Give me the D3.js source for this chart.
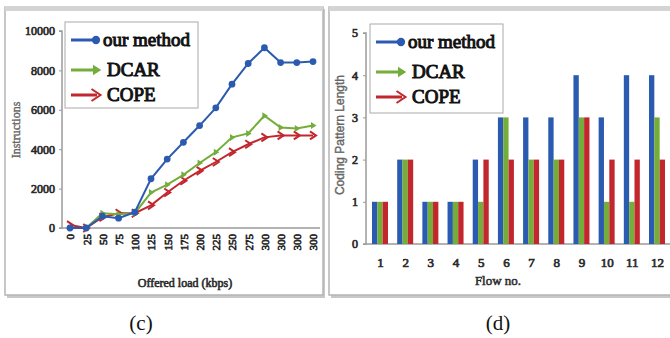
<!DOCTYPE html>
<html>
<head>
<meta charset="utf-8">
<script src="https://cdn.jsdelivr.net/npm/d3@7"></script>
<style>
  body { margin: 0; background: #fff; }
  svg { display: block; }
  svg text { font-family: "Liberation Serif", "Times New Roman", serif; }
</style>
</head>
<body>
<svg id="fig" width="670" height="338"></svg>
<script>
// left chart (c)
var loadLabels = ['0','25','50','75','100','125','150','175','200','225','250','275','300','300','300','300'];
var ourMethod = [0, 0, 600, 500, 800, 2500, 3500, 4350, 5200, 6100, 7300, 8350, 9150, 8400, 8400, 8450];
var dcar      = [0, 0, 750, 700, 750, 1800, 2200, 2700, 3300, 3850, 4600, 4800, 5700, 5100, 5050, 5200];
var cope      = [150, 0, 550, 750, 750, 1150, 1800, 2400, 2900, 3350, 3850, 4250, 4600, 4700, 4700, 4700];
var yTicksC = [0, 2000, 4000, 6000, 8000, 10000];

// right chart (d)
var flows = ['1','2','3','4','5','6','7','8','9','10','11','12'];
var ourLen  = [1, 2, 1, 1, 2, 3, 3, 3, 4, 3, 4, 4];
var dcarLen = [1, 2, 1, 1, 1, 3, 2, 2, 3, 1, 1, 3];
var copeLen = [1, 2, 1, 1, 2, 2, 2, 2, 3, 2, 2, 2];
var yTicksD = [0, 1, 2, 3, 4, 5];

var seriesNames = ['our method', 'DCAR', 'COPE'];
var colors = { 'our method': '#2b5bb0', 'DCAR': '#74ad3a', 'COPE': '#c1272d' };

var svg = d3.select('#fig');

// fake bold: regular serif with a thin stroke of the same colour
function heavy(sel, col, w) {
  sel.attr('fill', col).attr('stroke', col).attr('stroke-width', w).style('font-weight', 'normal');
}

// panel frames
function panel(x, w) {
  svg.append('rect').attr('x', x + 2).attr('y', 9).attr('width', w).attr('height', 289)
    .attr('fill', '#c8c8c8');
  svg.append('rect').attr('x', x).attr('y', 7).attr('width', w).attr('height', 288)
    .attr('fill', '#fff').attr('stroke', '#b5b5b5').attr('stroke-width', 1.5);
  svg.append('rect').attr('x', x).attr('y', 6).attr('width', w).attr('height', 5)
    .attr('fill', '#d4d4d4');
}
panel(5, 318);
panel(329, 345);

function styleAxis(g) {
  g.attr('font-family', null);
  g.selectAll('.domain').attr('stroke', '#9a9a9a').attr('stroke-width', 1.5);
  g.selectAll('.tick line').attr('stroke', '#9a9a9a');
  heavy(g.selectAll('.tick text'), '#2a2a2a', 0.7);
}

// ---- chart (c) ----
var x = d3.scalePoint().domain(d3.range(loadLabels.length)).range([70, 313]);
var y = d3.scaleLinear().domain([0, 10000]).range([228, 31]);

var gy = svg.append('g').attr('transform', 'translate(62,0)')
  .call(d3.axisLeft(y).tickValues(yTicksC).tickSize(3).tickPadding(4).tickFormat(d3.format('d')));
gy.select('.domain').attr('d', 'M-3,31H0V228H-3');
styleAxis(gy);
gy.selectAll('.tick text').style('font-size', '12px');

var gx = svg.append('g').attr('transform', 'translate(0,228)')
  .call(d3.axisBottom(x).tickSize(0).tickFormat(function(i) { return loadLabels[i]; }));
gx.select('.domain').attr('d', 'M62,0H320');
styleAxis(gx);
gx.selectAll('.tick text').style('font-size', '11px')
  .attr('transform', 'rotate(-90)').attr('text-anchor', 'end')
  .attr('x', -6).attr('y', 0).attr('dy', '0.35em');

heavy(svg.append('text').attr('x', 185).attr('y', 287).attr('text-anchor', 'middle')
  .style('font-size', '12px').text('Offered load (kbps)'), '#2a2a2a', 0.6);
heavy(svg.append('text').attr('transform', 'translate(20,130) rotate(-90)').attr('text-anchor', 'middle')
  .style('font-size', '12px').text('Instructions'), '#666', 0.4);

var line = d3.line().x(function(d, i) { return x(i); }).y(function(d) { return y(d); });
var lineData = [
  { name: 'COPE', values: cope },
  { name: 'DCAR', values: dcar },
  { name: 'our method', values: ourMethod }
];

function drawMarker(g, name, cx, cy, s) {
  var c = colors[name];
  if (name === 'our method') {
    g.append('path').attr('d', d3.symbol(d3.symbolCircle, 36 * s)()).attr('transform', 'translate(' + cx + ',' + cy + ')')
      .attr('fill', c);
  } else if (name === 'DCAR') {
    g.append('path').attr('d', 'M-2,-3.5L3.5,0L-2,3.5Z').attr('transform', 'translate(' + cx + ',' + cy + ') scale(' + s + ')')
      .attr('fill', c);
  } else {
    g.append('path').attr('d', 'M-3,-4L3,0L-3,4').attr('transform', 'translate(' + cx + ',' + cy + ') scale(' + s + ')')
      .attr('fill', 'none').attr('stroke', c).attr('stroke-width', 2 / s);
  }
}

lineData.forEach(function(s) {
  svg.append('path').datum(s.values).attr('d', line).attr('fill', 'none')
    .attr('stroke', colors[s.name]).attr('stroke-width', 2);
  var gm = svg.append('g');
  s.values.forEach(function(v, i) { drawMarker(gm, s.name, x(i), y(v), 1); });
});

function legend(lx, ly, w, h) {
  var g = svg.append('g');
  g.append('rect').attr('x', lx).attr('y', ly).attr('width', w).attr('height', h)
    .attr('fill', '#fff').attr('stroke', '#aaa');
  var rowY = [ly + 18, ly + 48, ly + 73];
  seriesNames.forEach(function(n, i) {
    var yy = rowY[i];
    g.append('line').attr('x1', lx + 6).attr('x2', lx + 32).attr('y1', yy).attr('y2', yy)
      .attr('stroke', colors[n]).attr('stroke-width', 3);
    drawMarker(g, n, lx + 31, yy, 1.5);
    heavy(g.append('text').attr('x', n === 'our method' ? lx + 38 : lx + 42).attr('y', yy + 6)
      .style('font-size', '19px').text(n), '#111', 1);
  });
}
legend(65, 22, 133, 86);

// ---- chart (d) ----
var xd = d3.scalePoint().domain(flows).range([380, 657]);
var xs = d3.scaleBand().domain(seriesNames).range([-8, 8]).padding(0);
var yd = d3.scaleLinear().domain([0, 5]).range([244, 33]);

var gyd = svg.append('g').attr('transform', 'translate(366,0)')
  .call(d3.axisLeft(yd).tickValues(yTicksD).tickSize(3).tickPadding(5).tickFormat(d3.format('d')));
gyd.select('.domain').attr('d', 'M-3,33H0V244H-3');
styleAxis(gyd);
gyd.selectAll('.tick text').style('font-size', '12px');

var gxd = svg.append('g').attr('transform', 'translate(0,244)')
  .call(d3.axisBottom(xd).tickSize(0).tickPadding(14));
gxd.select('.domain').attr('d', 'M366,0H670');
styleAxis(gxd);
gxd.selectAll('.tick text').style('font-size', '13px');

heavy(svg.append('text').attr('x', 498).attr('y', 285).attr('text-anchor', 'middle')
  .style('font-size', '13px').text('Flow no.'), '#2a2a2a', 0.5);
heavy(svg.append('text').attr('transform', 'translate(344,135) rotate(-90)').attr('text-anchor', 'middle')
  .style('font-family', '"Liberation Sans", sans-serif').style('font-size', '12px')
  .text('Coding Pattern Length'), '#666', 0.4);

var barData = [];
flows.forEach(function(f, i) {
  barData.push({ flow: f, name: 'our method', v: ourLen[i] });
  barData.push({ flow: f, name: 'DCAR', v: dcarLen[i] });
  barData.push({ flow: f, name: 'COPE', v: copeLen[i] });
});
svg.append('g').selectAll('rect').data(barData).enter().append('rect')
  .attr('x', function(d) { return xd(d.flow) + xs(d.name); })
  .attr('y', function(d) { return yd(d.v); })
  .attr('width', xs.bandwidth())
  .attr('height', function(d) { return yd(0) - yd(d.v); })
  .attr('fill', function(d) { return colors[d.name]; });

legend(370, 24, 133, 89);

// captions
svg.append('text').attr('x', 141).attr('y', 330).attr('text-anchor', 'middle')
  .style('font-size', '21px').attr('fill', '#111').text('(c)');
svg.append('text').attr('x', 498).attr('y', 330).attr('text-anchor', 'middle')
  .style('font-size', '21px').attr('fill', '#111').text('(d)');
</script>
</body>
</html>
